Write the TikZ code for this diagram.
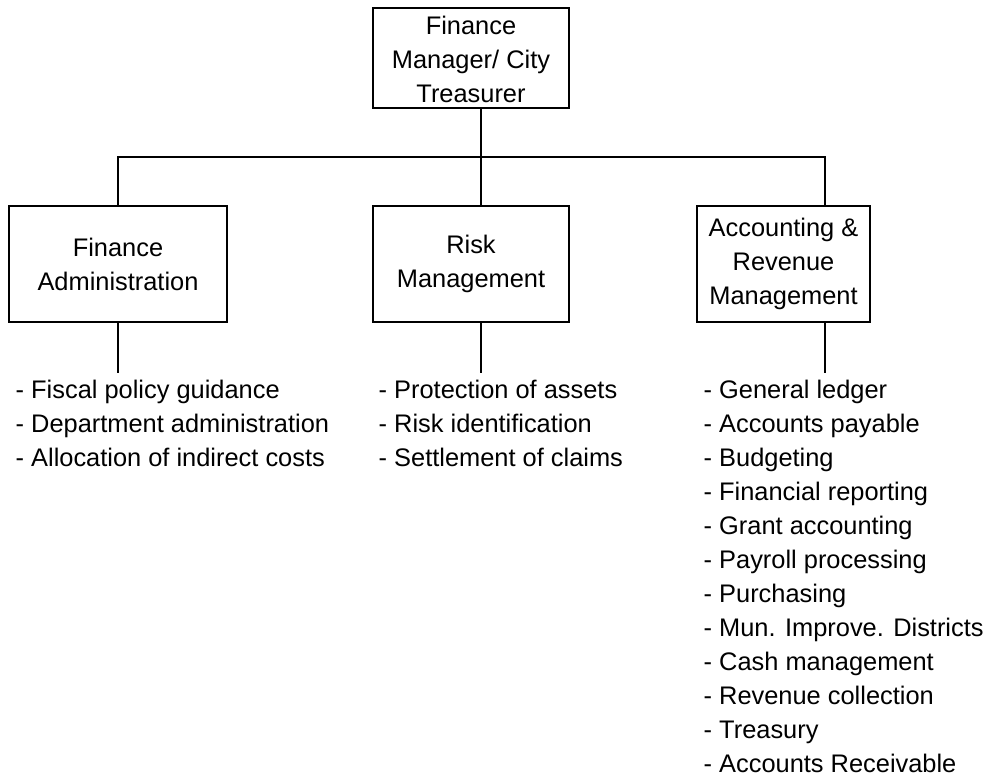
\documentclass[tikz,border=0pt]{standalone}
\usepackage{fontspec}
\setmainfont{Liberation Sans}
\begin{document}
\begin{tikzpicture}[x=1pt,y=-1pt, line width=1.4pt,
  every node/.style={font=\fontsize{25.4}{34}\selectfont, text=black},
  unit/.style={draw, align=center, inner sep=0pt, minimum height=116pt},
  duties/.style={align=left, anchor=north west, inner xsep=0pt, inner ysep=6.5pt}]
\useasboundingbox (0,0) rectangle (989,777);
\node[unit, minimum width=196pt, minimum height=100pt] (top) at (471,58) {\rule{0pt}{22pt}Finance\\Manager/ City\\Treasurer};
\node[unit, minimum width=218pt] (fa) at (118,264) {Finance\\Administration};
\node[unit, minimum width=196pt] (rm) at (471,264) {Risk\\Management};
\node[unit, minimum width=173pt] (ar) at (783.5,264) {Accounting \&\\Revenue\\Management};
\coordinate (bus) at (481,157);
\coordinate (car) at (825,157);
\draw (top.south -| bus) -- (bus);
\draw (fa.north) |- (car) -- (ar.north -| car);
\draw (bus) -- (rm.north -| bus);
\node[duties] (fal) at (15,373) {- Fiscal policy guidance\\- Department administration\\- Allocation of indirect costs};
\node[duties] (rml) at (378,373) {- Protection of assets\\- Risk identification\\- Settlement of claims};
\node[duties] (arl) at (703,373) {- General ledger\\- Accounts payable\\- Budgeting\\- Financial reporting\\- Grant accounting\\- Payroll processing\\- Purchasing\\- Mun. Improve. Districts\\- Cash management\\- Revenue collection\\- Treasury\\- Accounts Receivable};
\draw (fa.south) -- (fal.north -| fa.south);
\draw (rm.south -| bus) -- (rml.north -| bus);
\draw (ar.south -| car) -- (arl.north -| car);
\end{tikzpicture}
\end{document}
